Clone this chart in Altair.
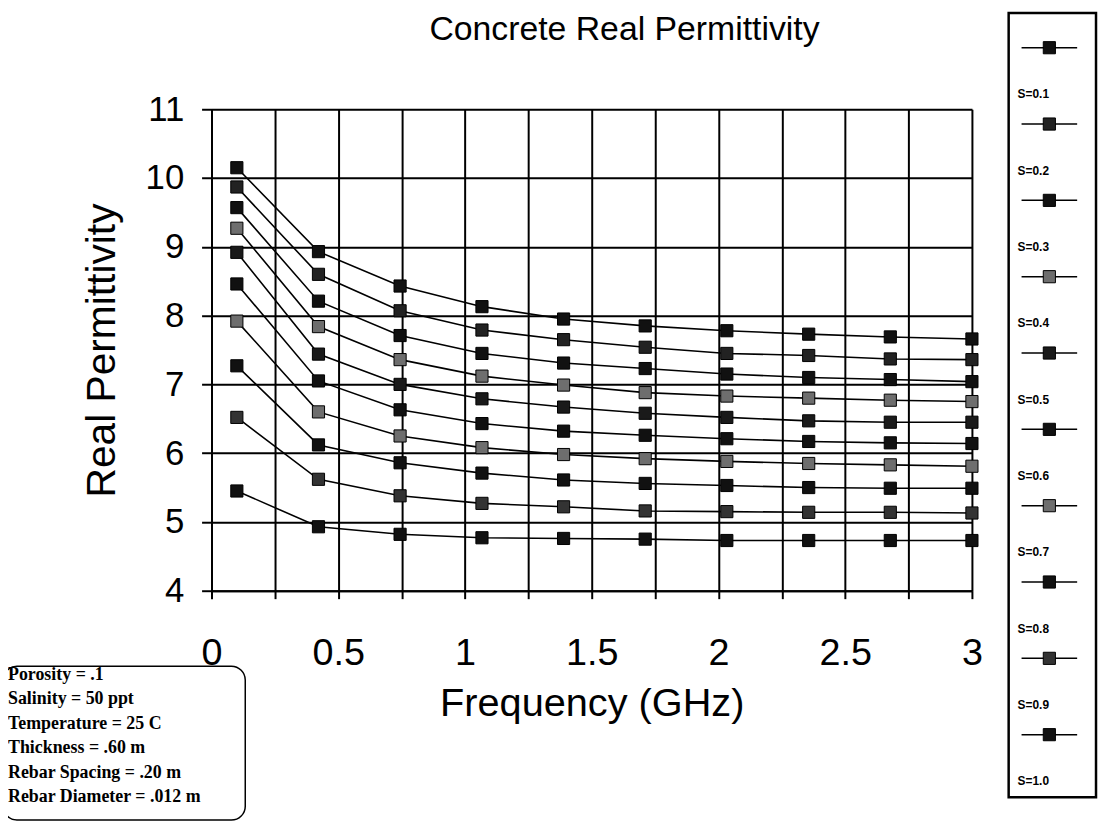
import altair as alt
import pandas as pd

# ---- data ----
freq = [0.1, 0.422, 0.744, 1.067, 1.389, 1.711, 2.033, 2.356, 2.678, 3.0]

s01 = [10.15, 8.93, 8.43, 8.13, 7.95, 7.85, 7.78, 7.73, 7.69, 7.66]
s02 = [9.87, 8.60, 8.07, 7.79, 7.65, 7.54, 7.45, 7.42, 7.37, 7.36]
s03 = [9.57, 8.21, 7.71, 7.45, 7.31, 7.23, 7.15, 7.10, 7.07, 7.04]
s04 = [9.27, 7.84, 7.36, 7.12, 6.99, 6.88, 6.83, 6.80, 6.77, 6.75]
s05 = [8.92, 7.44, 7.00, 6.79, 6.67, 6.58, 6.52, 6.47, 6.45, 6.45]
s06 = [8.46, 7.05, 6.63, 6.43, 6.32, 6.26, 6.21, 6.17, 6.15, 6.14]
s07 = [7.92, 6.60, 6.25, 6.08, 5.98, 5.92, 5.88, 5.85, 5.83, 5.81]
s08 = [7.27, 6.12, 5.86, 5.71, 5.61, 5.56, 5.53, 5.50, 5.49, 5.49]
s09 = [6.52, 5.62, 5.38, 5.27, 5.22, 5.16, 5.15, 5.14, 5.14, 5.13]
s10 = [5.45, 4.93, 4.82, 4.77, 4.76, 4.75, 4.73, 4.73, 4.73, 4.73]

series_labels = ["S=0.1", "S=0.2", "S=0.3", "S=0.4", "S=0.5",
                 "S=0.6", "S=0.7", "S=0.8", "S=0.9", "S=1.0"]
series_values = [s01, s02, s03, s04, s05, s06, s07, s08, s09, s10]
marker_fills = ["#111111", "#222222", "#111111", "#6e6e6e", "#1a1a1a",
                "#111111", "#6e6e6e", "#111111", "#333333", "#111111"]

x_ticks = [0, 0.25, 0.5, 0.75, 1, 1.25, 1.5, 1.75, 2, 2.25, 2.5, 2.75, 3]
y_ticks = [4, 4.5, 5, 5.5, 6, 6.5, 7, 7.5, 8, 8.5, 9, 9.5, 10, 10.5, 11]

notes = ["Porosity = .1", "Salinity = 50 ppt", "Temperature = 25 C",
         "Thickness = .60 m", "Rebar Spacing = .20 m", "Rebar Diameter = .012 m"]

rows = []
for lab, vals in zip(series_labels, series_values):
    for f, v in zip(freq, vals):
        rows.append({"series": lab, "freq": f, "perm": v})
df = pd.DataFrame(rows)
legend_df = pd.DataFrame({"series": series_labels})
notes_df = pd.DataFrame({"note": notes})
one = pd.DataFrame({"k": [0]})

SANS = "Liberation Sans"
SERIF = "Liberation Serif"

W, H = 766, 485

xenc = alt.X("freq:Q",
             scale=alt.Scale(domain=[0, 3], nice=False, zero=False),
             axis=alt.Axis(values=x_ticks, format="~g",
                           labelExpr="datum.value % 0.5 == 0 ? datum.label : ''",
                           title="Frequency (GHz)", titleFont=SANS, titleFontSize=40,
                           titleFontWeight="normal", titleColor="black",
                           titleY=114, titleBaseline="middle",
                           labelFont=SANS, labelFontSize=38, labelColor="black",
                           labelPadding=36, labelOverlap=False, labelFlush=False,
                           tickSize=8, tickWidth=2, tickColor="black",
                           domainColor="black", domainWidth=2,
                           grid=True, gridColor="black", gridWidth=2, gridOpacity=1))
yenc = alt.Y("perm:Q",
             scale=alt.Scale(domain=[4, 11], nice=False, zero=False),
             axis=alt.Axis(values=y_ticks, format="~g",
                           labelExpr="datum.value % 1 == 0 ? datum.label : ''",
                           title="Real Permittivity", titleFont=SANS, titleFontSize=41,
                           titleFontWeight="normal", titleColor="black",
                           titleX=-110, titleBaseline="middle", titleAngle=-90,
                           labelFont=SANS, labelFontSize=35, labelColor="black",
                           labelPadding=18, labelOverlap=False, labelFlush=False,
                           tickSize=10, tickWidth=2, tickColor="black",
                           domainColor="black", domainWidth=2,
                           grid=True, gridColor="black", gridWidth=2, gridOpacity=1))

lines = alt.Chart(df).mark_line(color="black", strokeWidth=1.6).encode(
    x=xenc, y=yenc, detail="series:N")
points = alt.Chart(df).mark_point(shape="square", filled=True, size=150,
                                  stroke="black", strokeWidth=1, opacity=1).encode(
    x="freq:Q", y="perm:Q",
    fill=alt.Fill("series:N", scale=alt.Scale(domain=series_labels, range=marker_fills),
                  legend=None))
main = alt.layer(lines, points)

# ---- custom legend panel (right) ----
ly = alt.Y("series:N", scale=alt.Scale(type="point", domain=series_labels,
                                       range=[-62, 630], padding=0), axis=None)
leg_rule = alt.Chart(legend_df).mark_rule(color="black", strokeWidth=1.5).encode(
    x=alt.value(816), x2=alt.value(872), y=ly)
leg_pt = alt.Chart(legend_df).mark_point(shape="square", filled=True, size=150,
                                         stroke="black", strokeWidth=1, opacity=1).encode(
    x=alt.value(844), y=ly,
    fill=alt.Fill("series:N", scale=alt.Scale(domain=series_labels, range=marker_fills),
                  legend=None))
leg_txt = alt.Chart(legend_df).mark_text(align="left", baseline="middle", dy=47,
                                         font=SANS, fontSize=12, fontWeight="bold",
                                         color="black").encode(
    x=alt.value(812), y=ly, text="series:N")
legend = alt.layer(leg_rule, leg_pt, leg_txt)

leg_box = alt.Chart(one).mark_rect(fillOpacity=0, stroke="black", strokeWidth=2.5).encode(
    x=alt.value(803), x2=alt.value(891), y=alt.value(-97), y2=alt.value(693))

# ---- parameter note box (bottom left) ----
ny = alt.Y("note:N", scale=alt.Scale(type="point", domain=notes,
                                     range=[570, 693], padding=0), axis=None)
note_txt = alt.Chart(notes_df).mark_text(align="left", baseline="middle",
                                         font=SERIF, fontSize=18, fontWeight="bold",
                                         color="black").encode(
    x=alt.value(-205), y=ny, text="note:N")
note_box = alt.Chart(one).mark_rect(fillOpacity=0, stroke="black", strokeWidth=1.5,
                                    cornerRadius=14).encode(
    x=alt.value(-210), x2=alt.value(34), y=alt.value(561), y2=alt.value(716))

chart = alt.layer(main, legend, leg_box, note_txt, note_box).resolve_scale(
    x="independent", y="independent", fill="independent"
).properties(
    width=W, height=H,
    title=alt.TitleParams("Concrete Real Permittivity", font=SANS, fontSize=34,
                          fontWeight="normal", color="black", anchor="middle",
                          dx=33, offset=-35),
    autosize=alt.AutoSizeParams(type="none"),
    padding={"left": 205, "top": 99, "right": 127, "bottom": 233},
).configure_view(stroke="black", strokeWidth=2).configure(background="white")

chart.save("out.html", embed_options={"renderer": "svg", "actions": False})
